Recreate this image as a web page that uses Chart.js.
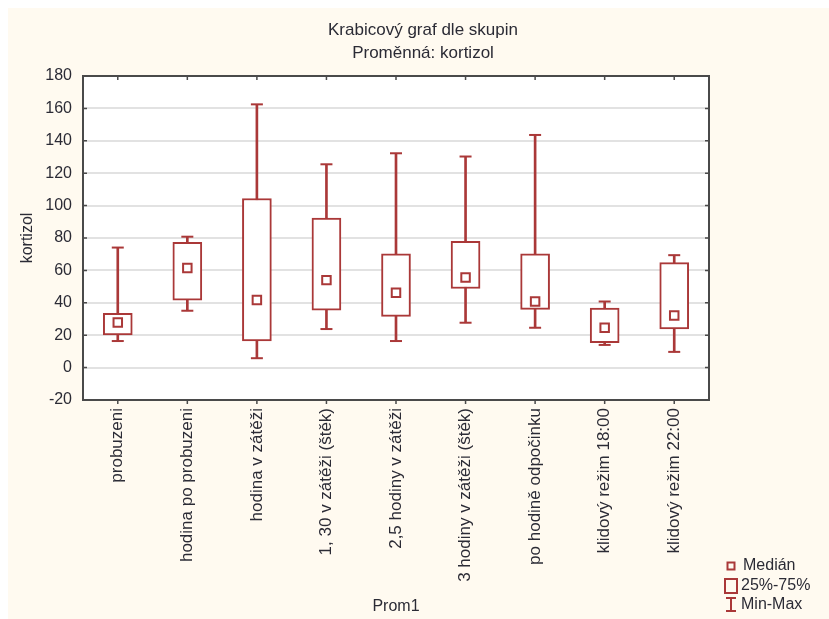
<!DOCTYPE html>
<html>
<head>
<meta charset="utf-8">
<script src="https://cdn.jsdelivr.net/npm/chart.js@4/dist/chart.umd.min.js"></script>
<style>
  html, body { margin: 0; padding: 0; background: #fff; }
  #wrap { width: 829px; height: 619px; }
</style>
</head>
<body>
<div id="wrap"><canvas id="box"></canvas></div>
<script>
const FONT = "Liberation Sans, Arial, sans-serif";
const RED = "#aa3838";
const INK = "#2b2b35";

const groups = [
  "probuzeni",
  "hodina po probuzeni",
  "hodina v zátěži",
  "1, 30 v zátěži (štěk)",
  "2,5 hodiny v zátěži",
  "3 hodiny v zátěži (štěk)",
  "po hodině odpočinku",
  "klidový režim 18:00",
  "klidový režim 22:00"
];
const minVals = [16.4, 35.1, 5.8, 23.8, 16.4, 27.7, 24.6, 14.0, 9.7];
const q1Vals = [20.1, 41.7, 16.4, 35.5, 31.6, 48.8, 35.9, 15.4, 23.8];
const medianVals = [27.9, 61.5, 41.7, 54.0, 46.2, 55.6, 40.8, 24.6, 32.2];
const q3Vals = [33.5, 77.4, 104.4, 92.3, 70.2, 78.0, 70.2, 36.7, 64.8];
const maxVals = [74.1, 80.8, 162.5, 125.5, 132.3, 130.3, 143.6, 40.8, 69.4];
const titleLines = ["Krabicový graf dle skupin", "Proměnná: kortizol"];
const legendItems = ["Medián", "25%-75%", "Min-Max"];

const frame = {
  id: "frame",
  beforeDraw(chart) {
    const { ctx, chartArea: a, width, height } = chart;
    ctx.save();
    ctx.fillStyle = "#ffffff";
    ctx.fillRect(0, 0, width, height);
    ctx.fillStyle = "#fffaf0";
    ctx.fillRect(8, 8, width - 8, height - 8);
    ctx.fillStyle = "#ffffff";
    ctx.fillRect(a.left, a.top, a.right - a.left, a.bottom - a.top);
    ctx.restore();
  },
  afterDraw(chart) {
    const { ctx, chartArea: a, scales } = chart;
    ctx.save();
    ctx.strokeStyle = "#4a4a4a";
    ctx.lineWidth = 2;
    ctx.strokeRect(a.left, a.top, a.right - a.left, a.bottom - a.top);

    // small tick marks round the frame
    ctx.lineWidth = 1.5;
    ctx.beginPath();
    scales.y.ticks.forEach((t) => {
      const y = scales.y.getPixelForValue(t.value);
      ctx.moveTo(a.left, y); ctx.lineTo(a.left + 4, y);
      ctx.moveTo(a.right, y); ctx.lineTo(a.right - 4, y);
    });
    groups.forEach((g, i) => {
      const x = scales.x.getPixelForValue(i);
      ctx.moveTo(x, a.top); ctx.lineTo(x, a.top + 4);
      ctx.moveTo(x, a.bottom); ctx.lineTo(x, a.bottom + 4);
    });
    ctx.stroke();

    // title
    ctx.fillStyle = INK;
    ctx.textAlign = "center";
    ctx.textBaseline = "middle";
    ctx.font = "17px " + FONT;
    ctx.fillText(titleLines[0], 423, 30);
    ctx.fillText(titleLines[1], 423, 53);

    // legend
    const lx = 731;
    ctx.strokeStyle = RED;
    ctx.lineWidth = 2;
    ctx.strokeRect(lx - 3.5, 562.5, 7, 7);
    ctx.strokeRect(lx - 6, 579, 12, 14);
    ctx.beginPath();
    ctx.moveTo(lx, 598); ctx.lineTo(lx, 611);
    ctx.moveTo(lx - 5, 598); ctx.lineTo(lx + 5, 598);
    ctx.moveTo(lx - 5, 611); ctx.lineTo(lx + 5, 611);
    ctx.stroke();
    ctx.textAlign = "left";
    ctx.font = "16px " + FONT;
    ctx.fillText(legendItems[0], 743, 566);
    ctx.fillText(legendItems[1], 741, 586);
    ctx.fillText(legendItems[2], 741, 605);
    ctx.restore();
  }
};

new Chart(document.getElementById("box"), {
  data: {
    labels: groups,
    datasets: [
      {
        type: "line",
        label: "Medián",
        data: medianVals,
        showLine: false,
        pointStyle: "rect",
        pointRadius: 6,
        pointBorderWidth: 2,
        pointBackgroundColor: "#ffffff",
        pointBorderColor: RED,
        order: 0
      },
      {
        type: "line",
        label: "Max",
        data: maxVals,
        showLine: false,
        pointStyle: "line",
        pointRadius: 6,
        pointBorderWidth: 2,
        pointBorderColor: RED,
        order: 1
      },
      {
        type: "line",
        label: "Min",
        data: minVals,
        showLine: false,
        pointStyle: "line",
        pointRadius: 6,
        pointBorderWidth: 2,
        pointBorderColor: RED,
        order: 1
      },
      {
        type: "bar",
        label: "25%-75%",
        data: q1Vals.map((v, i) => [v, q3Vals[i]]),
        backgroundColor: "#ffffff",
        borderColor: RED,
        borderWidth: 2,
        borderSkipped: false,
        barThickness: 29,
        grouped: false,
        order: 2
      },
      {
        type: "bar",
        label: "Min-Max",
        data: minVals.map((v, i) => [v, maxVals[i]]),
        backgroundColor: RED,
        barThickness: 2,
        grouped: false,
        order: 3
      }
    ]
  },
  options: {
    responsive: true,
    maintainAspectRatio: false,
    animation: false,
    events: [],
    layout: { padding: { top: 76, right: 120, left: 0, bottom: 0 } },
    plugins: {
      legend: { display: false },
      title: { display: false },
      tooltip: { enabled: false }
    },
    scales: {
      x: {
        type: "category",
        offset: true,
        afterFit: (s) => { s.height = 219; },
        grid: { display: false, drawTicks: false },
        border: { display: false },
        ticks: {
          autoSkip: false,
          maxRotation: 90,
          minRotation: 90,
          padding: 8,
          color: INK,
          font: { family: FONT, size: 17 }
        },
        title: {
          display: true,
          text: "Prom1",
          color: INK,
          padding: { top: 0, bottom: 3 },
          font: { family: FONT, size: 16 }
        }
      },
      y: {
        min: -20,
        max: 180,
        afterFit: (s) => { s.width = 83; },
        grid: { color: "#e2e2e2", lineWidth: 2, drawTicks: false },
        border: { display: false },
        ticks: {
          stepSize: 20,
          padding: 11,
          color: INK,
          font: { family: FONT, size: 16 }
        },
        title: {
          display: true,
          text: "kortizol",
          color: INK,
          padding: { top: 18, bottom: 0 },
          font: { family: FONT, size: 16 }
        }
      }
    }
  },
  plugins: [frame]
});
</script>
</body>
</html>
